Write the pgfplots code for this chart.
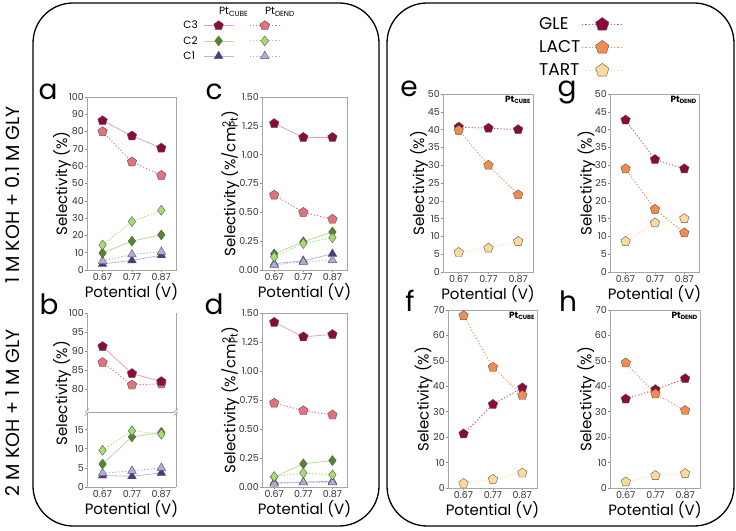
\documentclass[border=0pt]{standalone}
\usepackage{fontspec}
\setmainfont{Poppins}
\usepackage{pgfplots}
\pgfplotsset{compat=1.18}
\definecolor{cIIIc}{HTML}{8B0A3E}
\definecolor{cIIIcl}{HTML}{E8A2AC}
\definecolor{cIIId}{HTML}{E2707E}
\definecolor{cIIc}{HTML}{4E8A28}
\definecolor{cIIcl}{HTML}{B8DAA0}
\definecolor{cIId}{HTML}{A8DB70}
\definecolor{cIc}{HTML}{4A3A86}
\definecolor{cIcl}{HTML}{BDB6DC}
\definecolor{cId}{HTML}{B2AAD8}
\definecolor{gle}{HTML}{8B0A3E}
\definecolor{glel}{HTML}{D2505E}
\definecolor{lact}{HTML}{F28C4E}
\definecolor{tart}{HTML}{FDDA9B}
\pgfplotsset{
  every non boxed x axis/.append style={x axis line style={-}},
  every non boxed y axis/.append style={y axis line style={-}},
  panel/.style={
    scale only axis, anchor=south west, clip=false,
    xmin=0.617, xmax=0.92,
    xtick={0.67,0.77,0.87}, xticklabels={0.67,0.77,0.87},
    axis line style={black!35, line width=0.6pt},
    tick style={black!45, line width=0.5pt},
    tick align=outside, major tick length=2pt,
    xtick pos=bottom, ytick pos=left,
    /pgf/number format/assume math mode=true,
    ticklabel style={font=\fontsize{9.5}{10}\selectfont, text=black!80},
    yticklabel style={inner sep=1pt},
    xticklabel style={inner sep=1.5pt},
    xlabel={Potential (V)},
    xlabel style={font=\fontsize{15}{16}\selectfont, at={(axis description cs:0.5,0)}, anchor=center, yshift=-22pt},
    ylabel style={font=\fontsize{15}{16}\selectfont, anchor=center},
  },
  mk/.style={mark options={solid, fill=#1, draw=black!65, line width=0.4pt}},
  cube3/.style={color=cIIIcl, line width=0.8pt, mark=pentagon*, mark size=5pt, mk=cIIIc},
  dend3/.style={color=cIIId, line width=0.9pt, dash pattern=on 1.2pt off 2pt, mark=pentagon*, mark size=5pt, mk=cIIId},
  cube2/.style={color=cIIcl, line width=0.8pt, mark=diamond*, mark size=5pt, mk=cIIc},
  dend2/.style={color=cIId, line width=0.9pt, dash pattern=on 1.2pt off 2pt, mark=diamond*, mark size=5pt, mk=cIId},
  cube1/.style={color=cIcl, line width=0.8pt, mark=triangle*, mark size=5pt, mk=cIc},
  dend1/.style={color=cId, line width=0.9pt, dash pattern=on 1.2pt off 2pt, mark=triangle*, mark size=5pt, mk=cId},
  sgle/.style={color=glel, line width=0.9pt, dash pattern=on 1.2pt off 2pt, mark=pentagon*, mark size=5pt, mk=gle},
  slact/.style={color=lact, line width=0.9pt, dash pattern=on 1.2pt off 2pt, mark=pentagon*, mark size=5pt, mk=lact},
  start/.style={color=tart, line width=0.9pt, dash pattern=on 1.2pt off 2pt, mark=pentagon*, mark size=5pt, mk=tart},
}
\newcommand{\ptlab}[1]{\node[anchor=north east, inner sep=2pt, font=\bfseries\fontsize{9}{10}\selectfont] at (rel axis cs:1,1) {Pt\textsubscript{#1}};}
\begin{document}
\begin{tikzpicture}[x=1pt,y=1pt]
\useasboundingbox (0,0) rectangle (736,530);
\draw[line width=1.3pt, rounded corners=40pt] (33,4) rectangle (379,527);
\draw[line width=1.3pt, rounded corners=40pt] (387,4) rectangle (734,527);
\node[rotate=90, font=\fontsize{19}{20}\selectfont] at (13,335) {1 M KOH + 0.1 M GLY};
\node[rotate=90, font=\fontsize{19}{20}\selectfont] at (13,117) {2 M KOH + 1 M GLY};
% panel letters
\node[anchor=base, font=\fontsize{28}{30}\selectfont] at (48,430) {a};
\node[anchor=base, font=\fontsize{28}{30}\selectfont] at (214,430) {c};
\node[anchor=base, font=\fontsize{28}{30}\selectfont] at (49,215) {b};
\node[anchor=base, font=\fontsize{28}{30}\selectfont] at (214,215) {d};
\node[anchor=base, font=\fontsize{28}{30}\selectfont] at (409,433) {e};
\node[anchor=base, font=\fontsize{28}{30}\selectfont] at (567,433) {g};
\node[anchor=base, font=\fontsize{28}{30}\selectfont] at (410,218) {f};
\node[anchor=base, font=\fontsize{28}{30}\selectfont] at (568,218) {h};

% ---------- panel a ----------
\begin{axis}[panel, at={(87pt,260pt)}, width=89pt, height=173pt,
  ymin=0, ymax=100, ytick={0,10,...,100},
  ylabel={Selectivity (\%)}, ylabel style={at={(axis description cs:-0.28,0.5)}},
  legend plot pos=right, legend columns=2,
  legend image code/.code={\draw[mark repeat=2,mark phase=2] plot coordinates {(0pt,0pt) (15pt,0pt) (30pt,0pt)};},
  legend style={at={(1.07,1.52)}, anchor=north west, draw=none, fill=none, inner sep=0pt,
    font=\fontsize{10.5}{11}\selectfont, column sep=4.5pt, row sep=4pt, nodes={inner sep=1pt},
    /tikz/every even column/.append style={column sep=-6pt}},
  legend cell align=left]
\addlegendimage{legend image code/.code={\node[inner sep=0pt, font=\fontsize{10.5}{11}\selectfont] at (15pt,0pt) {\makebox[30pt]{Pt\textsubscript{CUBE}}};}}
\addlegendentry{}
\addlegendimage{legend image code/.code={\node[inner sep=0pt, font=\fontsize{10.5}{11}\selectfont] at (15pt,0pt) {\makebox[30pt]{Pt\textsubscript{DEND}}};}}
\addlegendentry{}
\addlegendimage{cube3}\addlegendentry{C3}
\addlegendimage{dend3}\addlegendentry{}
\addlegendimage{cube2}\addlegendentry{C2}
\addlegendimage{dend2}\addlegendentry{}
\addlegendimage{cube1}\addlegendentry{C1}
\addlegendimage{dend1}\addlegendentry{}
\addplot[cube1, forget plot] coordinates {(0.67,3.5) (0.77,5.5) (0.87,8.5)};
\addplot[dend1, forget plot] coordinates {(0.67,5.2) (0.77,9.0) (0.87,10.5)};
\addplot[cube2, forget plot] coordinates {(0.67,9.8) (0.77,16.7) (0.87,20.3)};
\addplot[dend2, forget plot] coordinates {(0.67,14.5) (0.77,28.0) (0.87,34.5)};
\addplot[dend3, forget plot] coordinates {(0.67,80.0) (0.77,62.5) (0.87,54.7)};
\addplot[cube3, forget plot] coordinates {(0.67,86.3) (0.77,77.5) (0.87,70.5)};
\end{axis}

% ---------- panel c ----------
\begin{axis}[panel, at={(262pt,260pt)}, width=85pt, height=173pt, xmin=0.628,
  ymin=0, ymax=1.5, ytick={0,0.25,...,1.5},
  yticklabel style={/pgf/number format/.cd, fixed, fixed zerofill, precision=2},
  ylabel={Selectivity (\%/cm\rlap{\textsuperscript{2}}\textsubscript{Pt})}, ylabel style={at={(axis description cs:-0.375,0.5)}}]
\addplot[cube1] coordinates {(0.67,0.055) (0.77,0.08) (0.87,0.14)};
\addplot[dend1] coordinates {(0.67,0.045) (0.77,0.07) (0.87,0.085)};
\addplot[cube2] coordinates {(0.67,0.14) (0.77,0.245) (0.87,0.33)};
\addplot[dend2] coordinates {(0.67,0.115) (0.77,0.23) (0.87,0.28)};
\addplot[dend3] coordinates {(0.67,0.65) (0.77,0.50) (0.87,0.44)};
\addplot[cube3] coordinates {(0.67,1.27) (0.77,1.15) (0.87,1.15)};
\end{axis}

% ---------- panel b (broken axis) ----------
\begin{axis}[panel, at={(87pt,118pt)}, width=89pt, height=99pt,
  axis x line=top, axis y line=box, xtick=\empty, xlabel={},
  ytick pos=left, tick align=outside,
  ymin=74, ymax=100, ytick={80,85,...,100}]
\addplot[dend3] coordinates {(0.67,87.0) (0.77,81.1) (0.87,81.4)};
\addplot[cube3] coordinates {(0.67,91.2) (0.77,84.1) (0.87,82.0)};
\end{axis}
\begin{axis}[panel, at={(87pt,43pt)}, width=89pt, height=75pt,
  axis x line=bottom, axis y line=box,
  ytick pos=left, tick align=outside,
  ymin=0, ymax=19.6, ytick={0,5,10,15}]
\addplot[cube1] coordinates {(0.67,3.0) (0.77,2.8) (0.87,3.7)};
\addplot[dend1] coordinates {(0.67,3.6) (0.77,4.2) (0.87,5.0)};
\addplot[cube2] coordinates {(0.67,6.0) (0.77,13.1) (0.87,14.3)};
\addplot[dend2] coordinates {(0.67,9.6) (0.77,14.7) (0.87,13.8)};
\end{axis}
\foreach \bx in {87,176} {
  \fill[white] (\bx-2,116.5) rectangle (\bx+2,119.5);
  \draw[black!45, line width=0.5pt] (\bx-2,114.5) -- (\bx+2,118.5);
  \draw[black!45, line width=0.5pt] (\bx-2,117.5) -- (\bx+2,121.5);
}
\node[rotate=90, font=\fontsize{15}{16}\selectfont] at (62,137) {Selectivity (\%)};

% ---------- panel d ----------
\begin{axis}[panel, at={(262pt,43pt)}, width=85pt, height=174pt, xmin=0.628,
  ymin=0, ymax=1.5, ytick={0,0.25,...,1.5},
  yticklabel style={/pgf/number format/.cd, fixed, fixed zerofill, precision=2},
  ylabel={Selectivity (\%/cm\rlap{\textsuperscript{2}}\textsubscript{Pt})}, ylabel style={at={(axis description cs:-0.375,0.5)}}]
\addplot[cube1] coordinates {(0.67,0.04) (0.77,0.042) (0.87,0.05)};
\addplot[dend1] coordinates {(0.67,0.028) (0.77,0.04) (0.87,0.04)};
\addplot[cube2] coordinates {(0.67,0.086) (0.77,0.20) (0.87,0.228)};
\addplot[dend2] coordinates {(0.67,0.09) (0.77,0.12) (0.87,0.105)};
\addplot[dend3] coordinates {(0.67,0.724) (0.77,0.658) (0.87,0.621)};
\addplot[cube3] coordinates {(0.67,1.42) (0.77,1.295) (0.87,1.315)};
\end{axis}

% ---------- panel e ----------
\begin{axis}[panel, at={(443pt,258pt)}, width=90pt, height=178pt,
  ymin=0, ymax=50, ytick={0,5,...,50},
  ylabel={Selectivity (\%)}, ylabel style={at={(axis description cs:-0.267,0.5)}},
  legend plot pos=right,
  legend image code/.code={\draw[mark repeat=2,mark phase=2, mark size=7pt] plot coordinates {(0pt,0pt) (20pt,0pt) (40pt,0pt)};},
  legend style={at={(1.05,1.438)}, anchor=north west, draw=none, fill=none, inner sep=0pt,
    font=\fontsize{17}{18}\selectfont, row sep=6.5pt, nodes={inner sep=1.5pt}},
  legend cell align=left]
\addplot[sgle] coordinates {(0.67,40.7) (0.77,40.4) (0.87,40.0)};
\addlegendentry{GLE}
\addplot[slact] coordinates {(0.67,39.8) (0.77,30.0) (0.87,21.7)};
\addlegendentry{LACT}
\addplot[start] coordinates {(0.67,5.5) (0.77,6.7) (0.87,8.6)};
\addlegendentry{TART}
\ptlab{CUBE}
\end{axis}

% ---------- panel g ----------
\begin{axis}[panel, at={(610pt,258pt)}, width=89pt, height=178pt,
  ymin=0, ymax=50, ytick={0,5,...,50},
  ylabel={Selectivity (\%)}, ylabel style={at={(axis description cs:-0.264,0.5)}}]
\addplot[sgle] coordinates {(0.67,42.7) (0.77,31.6) (0.87,29.0)};
\addplot[slact] coordinates {(0.67,29.0) (0.77,17.6) (0.87,11.0)};
\addplot[start] coordinates {(0.67,8.6) (0.77,13.8) (0.87,15.0)};
\ptlab{DEND}
\end{axis}

% ---------- panel f ----------
\begin{axis}[panel, at={(448pt,42pt)}, width=89pt, height=178pt,
  ymin=0, ymax=70, ytick={0,10,...,70},
  ylabel={Selectivity (\%)}, ylabel style={at={(axis description cs:-0.275,0.5)}}]
\addplot[sgle] coordinates {(0.67,21.3) (0.77,32.9) (0.87,39.4)};
\addplot[slact] coordinates {(0.67,67.8) (0.77,47.5) (0.87,36.4)};
\addplot[start] coordinates {(0.67,1.8) (0.77,3.4) (0.87,5.9)};
\ptlab{CUBE}
\end{axis}

% ---------- panel h ----------
\begin{axis}[panel, at={(610pt,42pt)}, width=90pt, height=178pt,
  ymin=0, ymax=70, ytick={0,10,...,70},
  ylabel={Selectivity (\%)}, ylabel style={at={(axis description cs:-0.264,0.5)}}]
\addplot[sgle] coordinates {(0.67,35.0) (0.77,38.7) (0.87,43.0)};
\addplot[slact] coordinates {(0.67,49.2) (0.77,37.0) (0.87,30.5)};
\addplot[start] coordinates {(0.67,2.4) (0.77,4.9) (0.87,5.7)};
\ptlab{DEND}
\end{axis}
\end{tikzpicture}
\end{document}
